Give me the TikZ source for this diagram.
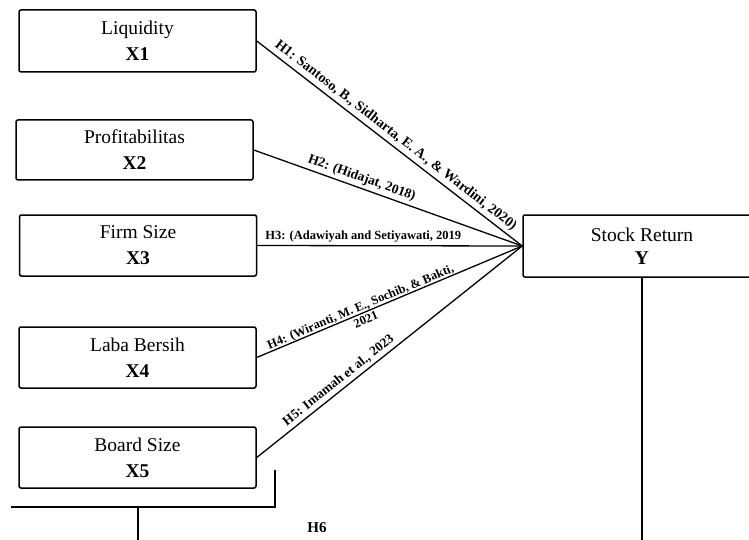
\documentclass[tikz,border=0pt]{standalone}
\usepackage{fontspec}
\setmainfont{Liberation Serif}
\begin{document}
\begin{tikzpicture}[x=1pt,y=-1pt,
  varbox/.style={draw, line width=1.5pt, rounded corners=2pt, minimum width=237pt, minimum height=61pt, align=center, inner sep=0pt, font=\fontsize{19.5}{26}\selectfont},
  link/.style={line width=1.3pt},
  hlab/.style={font=\fontsize{12.5}{14}\selectfont\bfseries, inner sep=3pt, sloped}]
\useasboundingbox (0,0) rectangle (749,540);
\clip (0,0) rectangle (749,540);
\node[varbox, minimum height=62pt] (x1) at (137.5,41) {Liquidity\\\textbf{X1}};
\node[varbox, minimum height=60pt] (x2) at (134.5,150) {Profitabilitas\\\textbf{X2}};
\node[varbox] (x3) at (138,245.5) {Firm Size\\\textbf{X3}};
\node[varbox] (x4) at (137.5,357.5) {Laba Bersih\\\textbf{X4}};
\node[varbox] (x5) at (137.5,457.5) {Board Size\\\textbf{X5}};
\node[varbox, minimum width=238pt, minimum height=62pt, font=\fontsize{19.5}{23}\selectfont] (y) at (642,246) {Stock Return\\\textbf{Y}};
\draw[link] (x1.east) -- node[hlab, above, pos=0.5, font=\fontsize{14}{15}\selectfont\bfseries] {H1: Santoso, B., Sidharta, E. A., \& Wardini, 2020)} (y.west);
\draw[link] (x2.east) -- node[hlab, above, pos=0.39, font=\fontsize{13.5}{15}\selectfont\bfseries] {H2: (Hidajat, 2018)} (y.west);
\draw[link] (x3.east) -- node[hlab, above, pos=0.40] {H3: (Adawiyah and Setiyawati, 2019} (y.west);
\draw[link] (x4.east) -- node[hlab, align=center, pos=0.40, inner sep=1pt] {H4: (Wiranti, M. E., Sochib, \& Bakti,\\2021} (y.west);
\draw[link] (x5.east) -- node[hlab, above, pos=0.33, font=\fontsize{13.3}{15}\selectfont\bfseries] {H5: Imamah et al., 2023} (y.west);
\coordinate (b1) at (275,470);
\coordinate (b2) at (275,507);
\coordinate (b3) at (11,507);
\coordinate (b4) at (138,507);
\coordinate (b5) at (138,540);
\coordinate (b6) at (642,540);
\draw[link] (b1) -- (b2) -- (b3);
\draw[link] (b4) -- (b5);
\draw[link] (y.south) -- (b6);
\node[font=\fontsize{15}{16}\selectfont\bfseries] (h6) at (317,528) {H6};
\end{tikzpicture}
\end{document}
